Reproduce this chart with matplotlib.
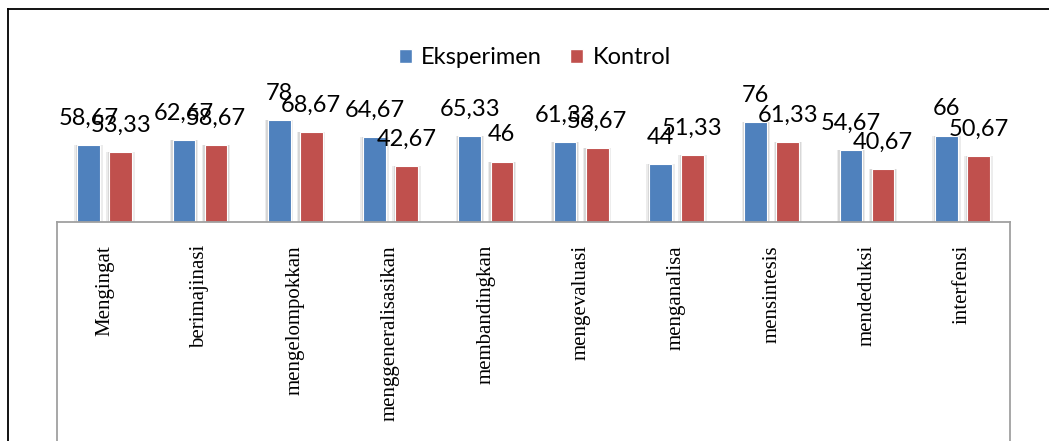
import numpy as np
import matplotlib
matplotlib.use("Agg")
import matplotlib.pyplot as plt
from matplotlib.lines import Line2D
from matplotlib.patches import Patch

# data
kategori = ["Mengingat", "berimajinasi", "mengelompokkan", "menggeneralisasikan", "membandingkan",
            "mengevaluasi", "menganalisa", "mensintesis", "mendeduksi", "interfensi"]
eksperimen = [58.67, 62.67, 78, 64.67, 65.33, 61.33, 44, 76, 54.67, 66]
kontrol = [53.33, 58.67, 68.67, 42.67, 46, 56.67, 51.33, 61.33, 40.67, 50.67]
seri_namen = ["Eksperimen", "Kontrol"]
farben = ["#4F81BD", "#C0504D"]

plt.rcParams["font.serif"] = ["Liberation Serif", "DejaVu Serif"]

W, H = 1049, 441
fig = plt.figure(figsize=(W / 100, H / 100), dpi=100)

# axes in pixel coords: left 57, right 1010, baseline y=222, top y=91
ax = fig.add_axes([57 / W, (H - 222) / H, (1010 - 57) / W, (222 - 91) / H])

x = np.arange(len(kategori))
breite = 0.238
versatz = 0.168

def label_text(v):
    return f"{v:g}".replace(".", ",")

for werte, off, farbe in ((eksperimen, -versatz, farben[0]), (kontrol, versatz, farben[1])):
    # weicher schatten hinter den balken
    ax.bar(x + off, werte, width=breite + 0.06, color="#ececec", zorder=1)
    ax.bar(x + off, werte, width=breite + 0.03, color="#d6d6d6", zorder=1)
    bars = ax.bar(x + off, werte, width=breite, color=farbe, edgecolor="white", linewidth=0.8, zorder=2)
    for b, v in zip(bars, werte):
        ax.annotate(label_text(v), (b.get_x() + b.get_width() / 2, v), xytext=(0, 14.6),
                    textcoords="offset points", ha="center", va="baseline",
                    fontsize=17, family="Lato", color="black", zorder=5)

ax.set_xlim(-0.5, len(kategori) - 0.5)
ax.set_ylim(0, 100)
ax.set_yticks([])
ax.set_xticks(x)
ax.set_xticklabels(kategori, rotation=90, fontsize=15)
for t in ax.get_xticklabels():
    t.set_fontfamily("serif")
ax.tick_params(axis="x", length=0, pad=16.5)
for s in ("top", "left", "right"):
    ax.spines[s].set_visible(False)
ax.spines["bottom"].set_color("#a0a0a0")
ax.spines["bottom"].set_linewidth(1.3)
ax.patch.set_alpha(0)

# kasten unter der achse
for px in (56.5, 1010):
    fig.add_artist(Line2D([px / W, px / W], [(H - 222) / H, 0], color="#a0a0a0", lw=1.3))

# aeusserer rahmen (oben und links)
fig.add_artist(Line2D([8 / W, 1], [(H - 9) / H, (H - 9) / H], color="black", lw=1.3))
fig.add_artist(Line2D([8 / W, 8 / W], [(H - 9) / H, 0], color="black", lw=1.3))

handles = [Patch(facecolor=c, edgecolor="white") for c in farben]
fig.legend(handles, seri_namen, loc="center", bbox_to_anchor=(535 / W, 1 - 58 / H), ncol=2,
           frameon=False, prop={"family": "Lato", "size": 17}, handlelength=0.55, handleheight=0.55,
           handletextpad=0.4, columnspacing=1.2)

fig.savefig("out.png", dpi=100)
